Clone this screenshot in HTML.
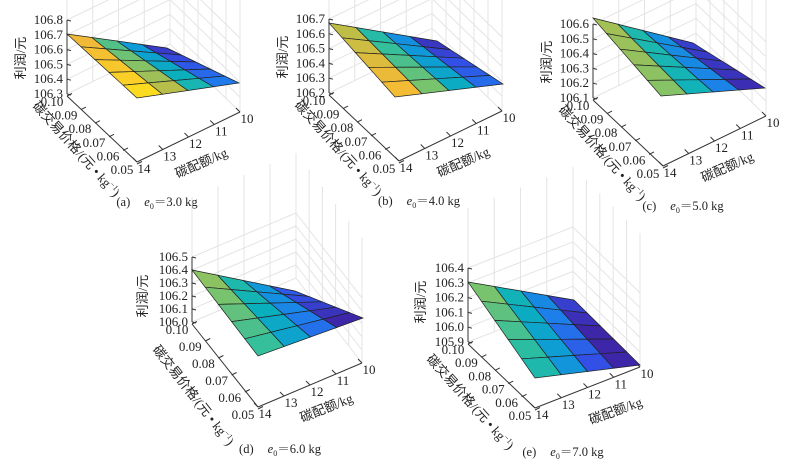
<!DOCTYPE html>
<html><head><meta charset="utf-8"><style>
body{margin:0;background:#fff;}
svg{display:block;}
text{font-family:"Liberation Serif","Noto Serif CJK SC",serif;font-size:13px;fill:#222;}
.cj{font-family:"Liberation Serif","Noto Sans CJK SC",sans-serif;font-size:13px;}
</style></head><body>
<svg id="s" width="787" height="465" xmlns="http://www.w3.org/2000/svg"></svg>
<script>
const S=document.getElementById('s');let h='';
const stops=[[0,[62,38,168]],[0.1,[50,80,230]],[0.2,[30,125,235]],[0.3,[15,155,215]],[0.4,[10,175,190]],[0.5,[45,190,160]],[0.6,[120,195,110]],[0.7,[190,190,70]],[0.8,[240,185,55]],[0.9,[250,205,40]],[1,[249,240,20]]];
function par(t){t=Math.max(0,Math.min(1,t));for(let i=0;i<stops.length-1;i++){const a=stops[i],b=stops[i+1];if(t<=b[0]){const f=(t-a[0])/(b[0]-a[0]);const c=a[1].map((v,k)=>Math.round(v+(b[1][k]-v)*f));return `rgb(${c})`;}}return 'rgb(249,240,20)';}
function L(x1,y1,x2,y2,c,w){h+=`<line x1="${x1}" y1="${y1}" x2="${x2}" y2="${y2}" stroke="${c}" stroke-width="${w||1}"/>`;}
function T(x,y,s,a,extra){h+=`<text x="${x}" y="${y}" text-anchor="${a||'middle'}" ${extra||''}>${s}</text>`;}
function panel(p){
 const [ox,oy]=p.O,H=p.h,P=p.P,Q=p.Q;
 const g='#e4e4e4';
 for(let k=0;k<=5;k++){const y=oy-H*k/5;L(ox,y,ox+Q[0],y+Q[1],g);L(ox+Q[0],y+Q[1],ox+Q[0]+P[0],y+Q[1]+P[1],g);}
 for(let k=0;k<=4;k++){const x=ox+Q[0]*k/4,y=oy+Q[1]*k/4;L(x,y,x,y-H-60,g);}
 for(let k=0;k<=5;k++){const x=ox+Q[0]+P[0]*k/5,y=oy+Q[1]+P[1]*k/5;L(x,y,x,y-H-60,g);}
 L(ox,oy,ox,oy-H,'#333');
 L(ox,oy+2,ox+P[0],oy+P[1],'#333');
 L(ox+P[0],oy+P[1],ox+P[0]+Q[0],oy+P[1]+Q[1],'#333');
 for(let k=0;k<=5;k++){const y=oy-H*k/5;L(ox,y,ox+4,y+1,'#333');T(ox-4,y+4,p.z[k],'end');}
 const pl=['0.10','0.09','0.08','0.07','0.06','0.05'];
 for(let k=0;k<=5;k++){const x=ox+P[0]*k/5,y=oy+2+P[1]*k/5;L(x,y,x+5,y-2.5,'#333');T(x-15,y+10,pl[k]);}
 const ql=['14','13','12','11','10'];
 for(let k=0;k<=4;k++){const x=ox+P[0]+Q[0]*k/4,y=oy+P[1]+Q[1]*k/4;L(x,y,x-4,y-4,'#333');T(x+7,y+11,ql[k]);}
 const [A,B,C,D]=p.V;
 function pt(u,v){const top=[A[0]+(B[0]-A[0])*u,A[1]+(B[1]-A[1])*u],bot=[D[0]+(C[0]-D[0])*u,D[1]+(C[1]-D[1])*u];return [top[0]+(bot[0]-top[0])*v,top[1]+(bot[1]-top[1])*v];}
 for(let i=0;i<4;i++)for(let j=0;j<5;j++){
  const a=pt(i/4,j/5),b=pt((i+1)/4,j/5),c=pt((i+1)/4,(j+1)/5),d=pt(i/4,(j+1)/5);
  h+=`<polygon points="${a} ${b} ${c} ${d}" fill="${par(p.t[0]+p.t[1]*i+p.t[2]*j)}" stroke="#222" stroke-width="0.7"/>`;}
 const zt=p.zt,pt2=p.pt,qt=p.qt,cp=p.cp;
 h+=`<text class="cj" x="${ox+zt[0]}" y="${oy+zt[1]}" text-anchor="middle" transform="rotate(-90 ${ox+zt[0]} ${oy+zt[1]})">利润/元</text>`;
 h+=`<text class="cj" x="${ox+pt2[0]}" y="${oy+pt2[1]}" text-anchor="middle" transform="rotate(${p.pa} ${ox+pt2[0]} ${oy+pt2[1]})">碳交易价格/(元 • kg<tspan dy="-5" font-size="8">−1</tspan><tspan dy="5">)</tspan></text>`;
 h+=`<text class="cj" x="${ox+qt[0]}" y="${oy+qt[1]}" text-anchor="middle" transform="rotate(${p.qa} ${ox+qt[0]} ${oy+qt[1]})">碳配额/kg</text>`;
 h+=`<text x="${ox+cp[0]}" y="${oy+cp[1]}" text-anchor="middle" style="font-size:12.5px">(${p.l})<tspan dx="14" font-style="italic">e</tspan><tspan font-size="8" dy="3">0</tspan><tspan dy="-3">＝${p.e} kg</tspan></text>`;
}
const base={h:74,P:[70,68],Q:[103,-50],zt:[-42,-36],pt:[6,58],qt:[136,73],cp:[90,112],pa:48,qa:-24};
panel({...base,O:[67,94],z:['106.3','106.4','106.5','106.6','106.7','106.8'],V:[[67,34],[167,48],[239,83],[137,98]],t:[0.8,-0.25,0.035],l:'a',e:'3.0'});
panel({...base,O:[329,93],z:['106.2','106.3','106.4','106.5','106.6','106.7'],V:[[329,23],[437,41],[503,84],[395,97]],t:[0.7,-0.22,0.03],l:'b',e:'4.0'});
panel({...base,O:[593,98],z:['106.1','106.2','106.3','106.4','106.5','106.6'],V:[[593,18],[693,43],[765,88],[661,96]],t:[0.66,-0.2,-0.01],l:'c',e:'5.0'});
panel({O:[192,322],h:65,P:[66,85],Q:[104,-44],zt:[-45,-26],pt:[-2,76],qt:[136,90],cp:[88,131],pa:52,qa:-22,z:['106.0','106.1','106.2','106.3','106.4','106.5'],V:[[192,270],[295,291],[363,318],[258,356]],t:[0.63,-0.17,-0.03],l:'d',e:'6.0'});
panel({O:[468,342],h:74,P:[67,66],Q:[105,-41],zt:[-43,-40],pt:[-1,63],qt:[149,73],cp:[95,114],pa:48,qa:-20,z:['105.9','106.0','106.1','106.2','106.3','106.4'],V:[[468,282],[574,300],[640,365],[535,378]],t:[0.6,-0.18,-0.035],l:'e',e:'7.0'});
S.innerHTML=h;
</script>
</body></html>
